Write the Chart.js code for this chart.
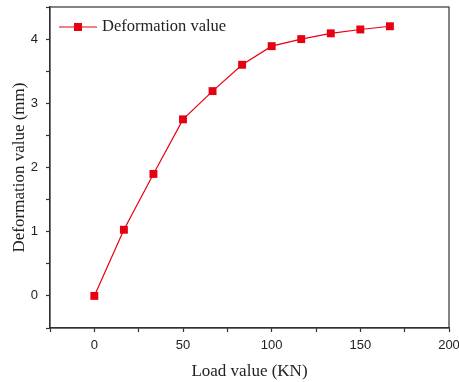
<!DOCTYPE html>
<html>
<head>
<meta charset="utf-8">
<script src="https://cdn.jsdelivr.net/npm/chart.js@4/dist/chart.umd.min.js"></script>
<style>
  html, body { margin: 0; padding: 0; background: #fff; }
  #wrap { width: 459px; height: 382px; }
</style>
</head>
<body>
<div id="wrap"><canvas id="chart" width="459" height="382"></canvas></div>
<script>
// data
const loads = [0, 16.67, 33.33, 50, 66.67, 83.33, 100, 116.67, 133.33, 150, 166.67];
const deformations = [0, 1.03, 1.9, 2.75, 3.19, 3.6, 3.89, 4.0, 4.09, 4.15, 4.2];
const seriesName = "Deformation value";
const xTitle = "Load value (KN)";
const yTitle = "Deformation value (mm)";

const red = "#e60012";
const axisColor = "#333";

// box frame + legend inside the plot area
const framePlugin = {
  id: "frame",
  afterDraw(chart) {
    const { ctx, chartArea: a } = chart;
    ctx.save();
    ctx.strokeStyle = axisColor;
    ctx.lineWidth = 1.2;
    ctx.strokeRect(a.left, a.top, a.right - a.left, a.bottom - a.top);

    // legend
    const ly = a.top + 20;
    const lx = a.left + 9;
    ctx.strokeStyle = red;
    ctx.lineWidth = 1.2;
    ctx.beginPath();
    ctx.moveTo(lx, ly);
    ctx.lineTo(lx + 38, ly);
    ctx.stroke();
    ctx.fillStyle = red;
    ctx.fillRect(lx + 15, ly - 4, 8, 8);
    ctx.fillStyle = "#222";
    ctx.font = "16.5px 'Liberation Serif', 'DejaVu Serif', serif";
    ctx.textBaseline = "middle";
    ctx.fillText(seriesName, lx + 43, ly);
    ctx.restore();
  }
};

new Chart(document.getElementById("chart"), {
  type: "scatter",
  data: {
    datasets: [{
      label: seriesName,
      data: loads.map((x, i) => ({ x: x, y: deformations[i] })),
      showLine: true,
      borderColor: red,
      borderWidth: 1.2,
      backgroundColor: red,
      pointStyle: "rect",
      pointRadius: 5.6,
      pointHoverRadius: 5.6,
      pointBorderWidth: 0
    }]
  },
  options: {
    responsive: false,
    animation: false,
    layout: { padding: { top: 7, right: 10, left: 0, bottom: 0 } },
    plugins: {
      legend: { display: false },
      tooltip: { enabled: false }
    },
    scales: {
      x: {
        type: "linear",
        min: -25,
        max: 200,
        grid: { drawOnChartArea: false, color: axisColor, tickLength: 4, tickWidth: 1.2 },
        border: { color: axisColor, width: 1.2 },
        ticks: {
          stepSize: 25,
          autoSkip: false,
          maxRotation: 0,
          color: "#222",
          padding: 6,
          font: { family: "'Liberation Sans', Arial, sans-serif", size: 13 },
          callback: (v) => (v % 50 === 0 ? String(v) : "")
        },
        title: {
          display: true,
          text: xTitle,
          color: "#222",
          font: { family: "'Liberation Serif', 'DejaVu Serif', serif", size: 17 },
          padding: { top: 5, bottom: 0 }
        },
        afterFit(scale) {
          scale.height = 54;
          scale.paddingLeft = 0;
          scale.paddingRight = 0;
        }
      },
      y: {
        min: -0.5,
        max: 4.5,
        grid: { drawOnChartArea: false, color: axisColor, tickLength: 4, tickWidth: 1.2 },
        border: { color: axisColor, width: 1.2 },
        ticks: {
          stepSize: 0.5,
          autoSkip: false,
          color: "#222",
          padding: 8,
          font: { family: "'Liberation Sans', Arial, sans-serif", size: 13 },
          callback: (v) => (Number.isInteger(v) ? String(v) : "")
        },
        title: {
          display: true,
          text: yTitle,
          color: "#222",
          font: { family: "'Liberation Serif', 'DejaVu Serif', serif", size: 17 },
          padding: { top: 9, bottom: 0 }
        },
        afterFit(scale) {
          scale.width = 50;
          scale.paddingTop = 0;
          scale.paddingBottom = 0;
        }
      }
    }
  },
  plugins: [framePlugin]
});
</script>
</body>
</html>
